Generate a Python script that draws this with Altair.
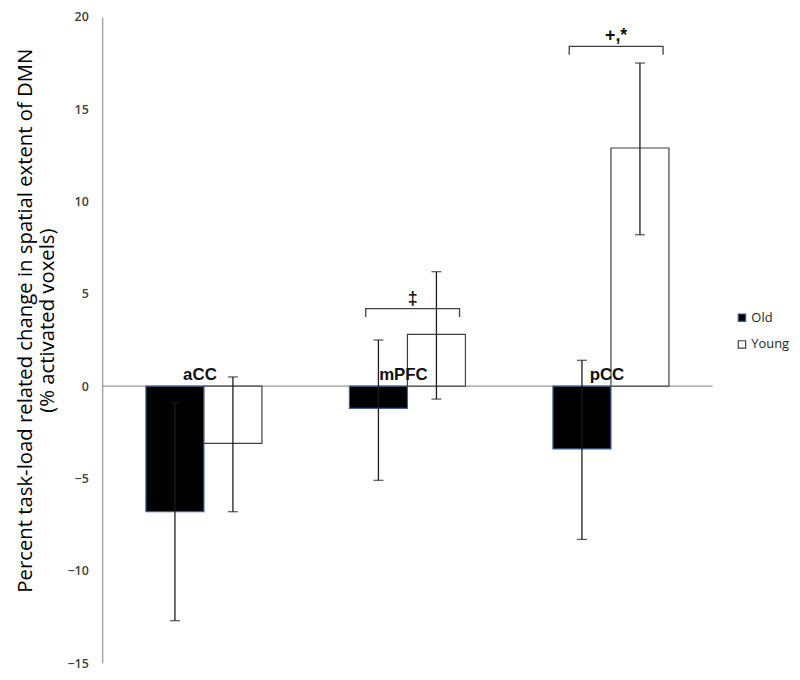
import altair as alt
import pandas as pd

# ---- data ----
groups = ["aCC", "mPFC", "pCC"]
series = ["Old", "Young"]
old_mean = [-6.8, -1.2, -3.4]
young_mean = [-3.1, 2.8, 12.9]
old_low = [-12.7, -5.1, -8.3]
old_high = [-0.9, 2.5, 1.4]
young_low = [-6.8, -0.7, 8.2]
young_high = [0.5, 6.2, 17.5]
sig_groups = ["mPFC", "pCC"]
sig_labels = ["\u2021", "+,*"]
sig_level = [4.2, 18.4]
y_ticks = [-15, -10, -5, 0, 5, 10, 15, 20]

BAR_W = 0.285
BR_L, BR_R, BR_DROP = -0.205, 0.256, 0.45

rows = []
for i, g in enumerate(groups):
    rows.append(dict(group=g, series="Old", mean=old_mean[i], lo=old_low[i], hi=old_high[i],
                     x0=i - BAR_W, x1=i, base=0))
    rows.append(dict(group=g, series="Young", mean=young_mean[i], lo=young_low[i], hi=young_high[i],
                     x0=i, x1=i + BAR_W, base=0))
df = pd.DataFrame(rows)
df["xc"] = (df["x0"] + df["x1"]) / 2

lab_df = pd.DataFrame({"group": groups, "x": list(range(len(groups))), "y": [0] * len(groups)})

br_rows = []
txt_rows = []
for g, lab, lev in zip(sig_groups, sig_labels, sig_level):
    i = groups.index(g)
    xl, xr = i + BR_L, i + BR_R
    for k, (xx, yy) in enumerate([(xl, lev - BR_DROP), (xl, lev), (xr, lev), (xr, lev - BR_DROP)]):
        br_rows.append(dict(group=g, k=k, x=xx, y=yy))
    txt_rows.append(dict(group=g, label=lab, x=(xl + xr) / 2, y=lev))
br_df = pd.DataFrame(br_rows)
txt_df = pd.DataFrame(txt_rows)

xscale = alt.Scale(domain=[-0.5, len(groups) - 0.5], nice=False, zero=False)
yscale = alt.Scale(domain=[-15, 20], nice=False)

yaxis = alt.Axis(
    values=y_ticks, ticks=False, grid=False,
    domainColor="#a6a6a6", domainWidth=1.5,
    labelColor="#404040", labelFont="Open Sans", labelFontSize=12.5, labelFontWeight=600,
    labelPadding=14,
    title=["Percent task-load related change in spatial extent of DMN", "(% activated voxels)"],
    titleFont="Open Sans", titleFontSize=20.5, titleFontWeight="normal", titleColor="#000000",
    titlePadding=10, titleLineHeight=22, titleY=306,
)

zero = alt.Chart(pd.DataFrame({"z": [0]})).mark_rule(color="#9a9a9a", strokeWidth=1.2).encode(
    y=alt.Y("z:Q", scale=yscale, axis=yaxis)
)

bars = alt.Chart(df).mark_bar(strokeWidth=1.2).encode(
    x=alt.X("x0:Q", scale=xscale, axis=None),
    x2="x1",
    y=alt.Y("mean:Q", scale=yscale, axis=yaxis),
    y2="base",
    fill=alt.Fill("series:N", scale=alt.Scale(domain=series, range=["#000000", "#ffffff"]),
                  legend=alt.Legend(title=None, orient="none", legendX=639, legendY=297,
                                    symbolType="square", symbolSize=56,
                                    symbolStrokeColor="#000000", symbolStrokeWidth=1.2,
                                    labelFont="Open Sans", labelFontSize=13, labelColor="#262626",
                                    rowPadding=13, labelOffset=3, padding=0)),
    stroke=alt.Stroke("series:N", scale=alt.Scale(domain=series, range=["#3d5f95", "#404040"]),
                      legend=None),
)

ERR_C = "#1c1c1c"
err = alt.Chart(df).mark_rule(color=ERR_C, strokeWidth=1.3).encode(
    x=alt.X("xc:Q", scale=xscale), y=alt.Y("lo:Q", scale=yscale), y2="hi"
)
cap_lo = alt.Chart(df).mark_tick(color=ERR_C, thickness=1.3, size=10, orient="horizontal").encode(
    x=alt.X("xc:Q", scale=xscale), y=alt.Y("lo:Q", scale=yscale)
)
cap_hi = alt.Chart(df).mark_tick(color=ERR_C, thickness=1.3, size=10, orient="horizontal").encode(
    x=alt.X("xc:Q", scale=xscale), y=alt.Y("hi:Q", scale=yscale)
)

brackets = alt.Chart(br_df).mark_line(color="#404040", strokeWidth=1.3).encode(
    x=alt.X("x:Q", scale=xscale), y=alt.Y("y:Q", scale=yscale), detail="group:N", order="k:Q"
)
br_text = alt.Chart(txt_df).mark_text(font="Liberation Sans", fontWeight="bold", fontSize=18,
                                      baseline="alphabetic", dy=-5, color="#111111").encode(
    x=alt.X("x:Q", scale=xscale), y=alt.Y("y:Q", scale=yscale), text="label:N"
)
grp_text = alt.Chart(lab_df).mark_text(font="Liberation Sans", fontWeight="bold", fontSize=17,
                                       baseline="alphabetic", dy=-6, dx=-4, color="#111111").encode(
    x=alt.X("x:Q", scale=xscale), y=alt.Y("y:Q", scale=yscale), text="group:N"
)

chart = alt.layer(zero, bars, err, cap_lo, cap_hi, brackets, br_text, grp_text).properties(
    width=616, height=652,
    autosize=alt.AutoSizeParams(type="none"),
    padding={"left": 95, "top": 6, "right": 80, "bottom": 5},
    background="white",
).configure_view(stroke=None)

chart.save("out.html", embed_options={"renderer": "svg", "actions": False})
